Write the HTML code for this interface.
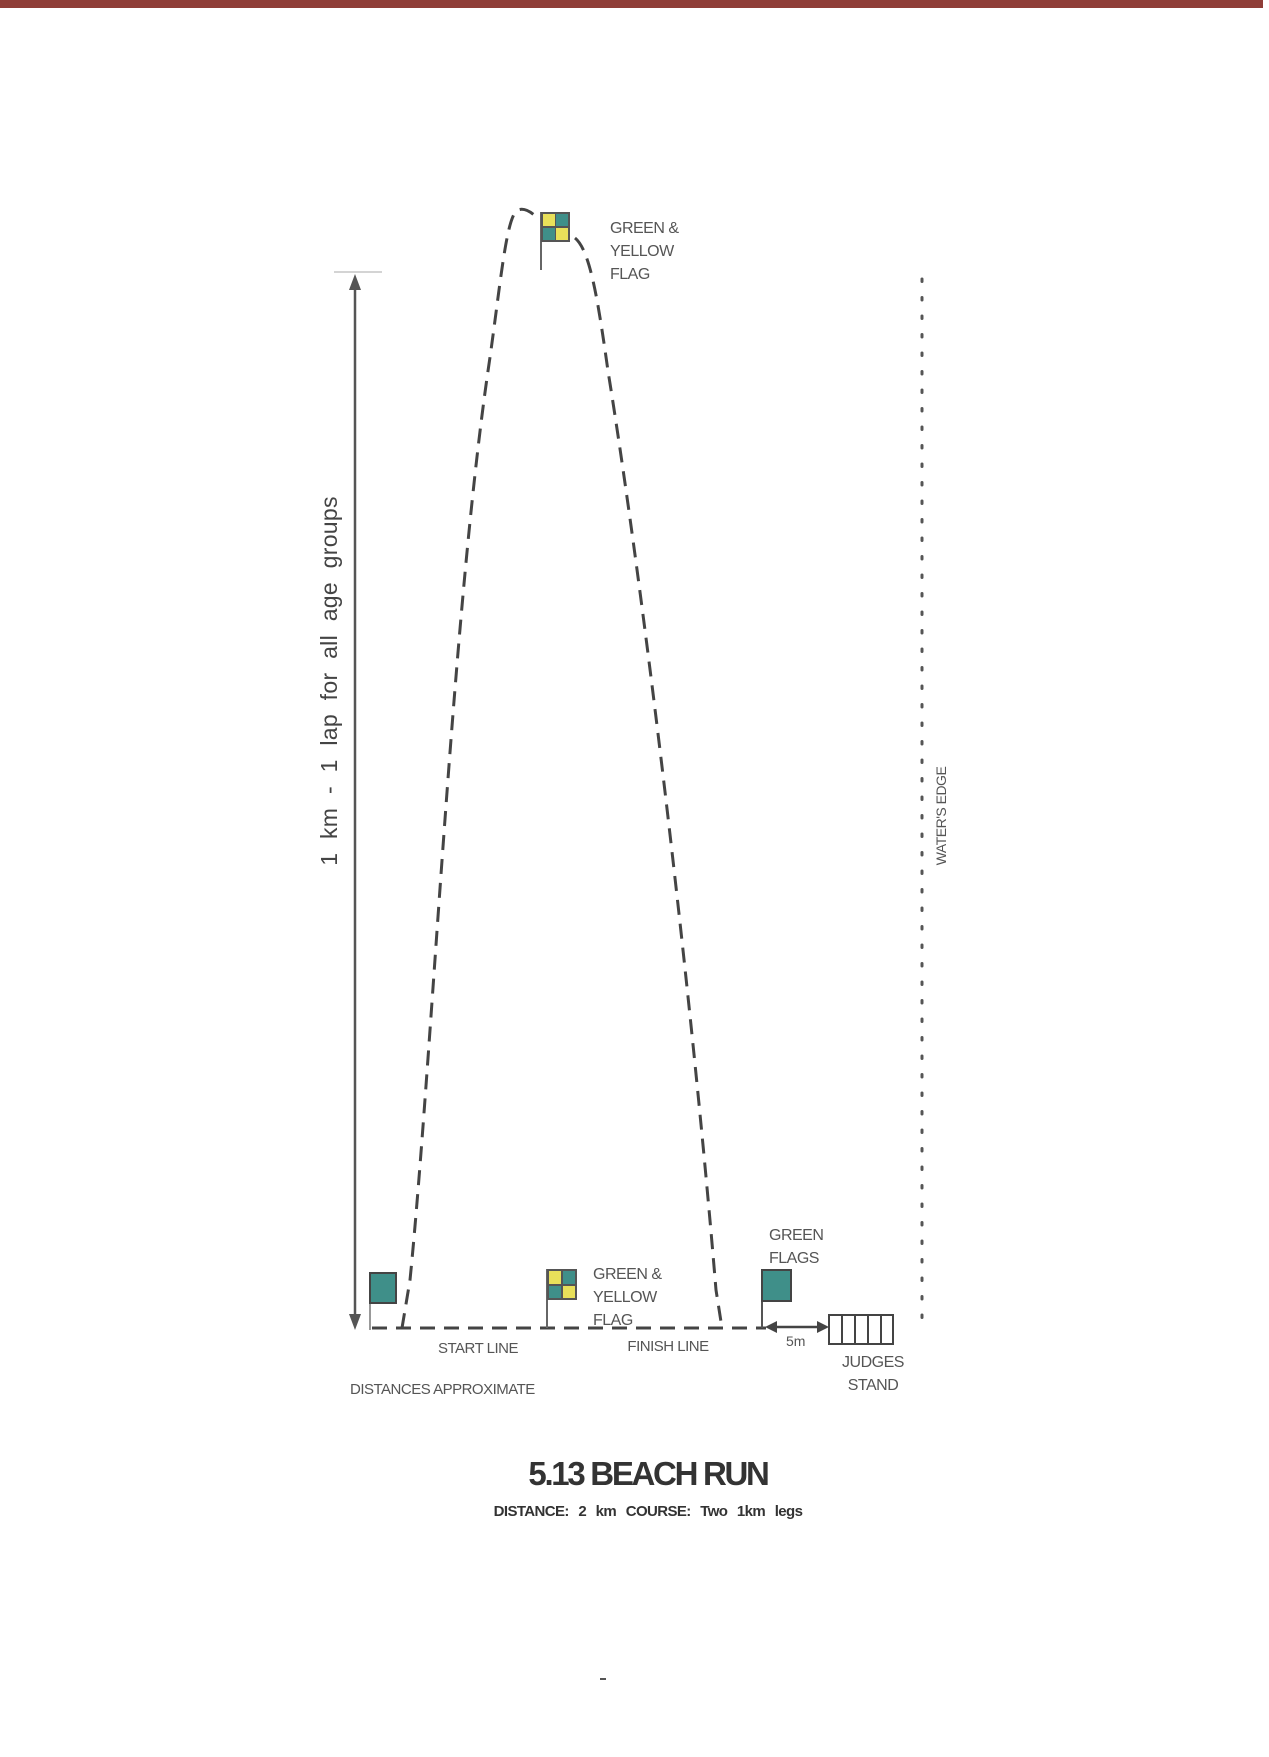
<!DOCTYPE html>
<html><head><meta charset="utf-8"><style>
html,body{margin:0;padding:0;background:#fff;}
svg{display:block;}
text{font-family:"Liberation Sans",sans-serif;fill:#555;}
</style></head><body>
<svg width="1269" height="1757" viewBox="0 0 1269 1757" xmlns="http://www.w3.org/2000/svg">
<rect x="0" y="0" width="1263" height="8" fill="#8f3e38"/>

<g stroke="#555" fill="#555">
<line x1="334" y1="272" x2="382" y2="272" stroke="#aaa" stroke-width="1"/>
<line x1="355" y1="282" x2="355" y2="1318" stroke-width="2.5"/>
<polygon points="355,274 349,290 361,290" stroke="none"/>
<polygon points="355,1330 349,1314 361,1314" stroke="none"/>
</g>
<text transform="translate(337,681) rotate(-90)" text-anchor="middle" font-size="23" style="fill:#444;word-spacing:7px;letter-spacing:0.3px">1 km - 1 lap for all age groups</text>

<g fill="none" stroke="#444" stroke-width="3" stroke-dasharray="15 9">
<path d="M372,1328 L722,1328 L766,1328"/>
<path d="M402,1328 L410,1280 C432,1060 452,620 488,371 C500,290 506,214 518,210 C526,207 533,214 540,220"/>
<path d="M575,238 C590,250 598,300 608,371 C645,600 692,1000 716,1290 L722,1328"/>
</g>

<g>
<line x1="370" y1="1273" x2="370" y2="1330" stroke="#777" stroke-width="1.5"/>
<rect x="370" y="1273" width="26" height="30" fill="#3f8f89" stroke="#444" stroke-width="2"/>
</g>

<g>
<line x1="541" y1="212" x2="541" y2="270" stroke="#666" stroke-width="2"/>
<rect x="541" y="212" width="29" height="30" fill="#555"/>
<rect x="543" y="214" width="12" height="12" fill="#e8e05a"/>
<rect x="556" y="214" width="12" height="12" fill="#3f8f89"/>
<rect x="543" y="228" width="12" height="12" fill="#3f8f89"/>
<rect x="556" y="228" width="12" height="12" fill="#e8e05a"/>
</g>
<text font-size="16" x="610" y="233" style="letter-spacing:-0.5px">GREEN &amp;</text>
<text font-size="16" x="610" y="256" style="letter-spacing:-0.5px">YELLOW</text>
<text font-size="16" x="610" y="279" style="letter-spacing:-0.5px">FLAG</text>

<g>
<line x1="547" y1="1269" x2="547" y2="1328" stroke="#666" stroke-width="2"/>
<rect x="547" y="1269" width="30" height="31" fill="#555"/>
<rect x="549" y="1271" width="12" height="13" fill="#e8e05a"/>
<rect x="563" y="1271" width="12" height="13" fill="#3f8f89"/>
<rect x="549" y="1286" width="12" height="12" fill="#3f8f89"/>
<rect x="563" y="1286" width="12" height="12" fill="#e8e05a"/>
</g>
<text font-size="16" x="593" y="1279" style="letter-spacing:-0.5px">GREEN &amp;</text>
<text font-size="16" x="593" y="1302" style="letter-spacing:-0.5px">YELLOW</text>
<text font-size="16" x="593" y="1325" style="letter-spacing:-0.5px">FLAG</text>

<text font-size="15" x="478" y="1353" text-anchor="middle" style="letter-spacing:-0.5px">START LINE</text>
<text font-size="15" x="668" y="1351" text-anchor="middle" style="letter-spacing:-0.5px">FINISH LINE</text>
<text font-size="15" x="350" y="1394" style="letter-spacing:-0.5px">DISTANCES APPROXIMATE</text>

<g>
<line x1="762" y1="1270" x2="762" y2="1328" stroke="#555" stroke-width="2"/>
<rect x="762" y="1270" width="29" height="31" fill="#3f8f89" stroke="#444" stroke-width="2"/>
</g>
<text font-size="16" x="769" y="1240" style="letter-spacing:-0.5px">GREEN</text>
<text font-size="16" x="769" y="1263" style="letter-spacing:-0.5px">FLAGS</text>

<g fill="#444" stroke="#444">
<line x1="772" y1="1327" x2="820" y2="1327" stroke-width="2.5"/>
<polygon points="765,1327 777,1321 777,1333" stroke="none"/>
<polygon points="829,1327 817,1321 817,1333" stroke="none"/>
</g>
<text font-size="14" x="786" y="1346">5m</text>

<g fill="none" stroke="#444" stroke-width="2">
<rect x="829" y="1315" width="64" height="29"/>
<line x1="842" y1="1315" x2="842" y2="1344"/>
<line x1="855" y1="1315" x2="855" y2="1344"/>
<line x1="868" y1="1315" x2="868" y2="1344"/>
<line x1="881" y1="1315" x2="881" y2="1344"/>
</g>
<text font-size="16" x="873" y="1367" text-anchor="middle" style="letter-spacing:-0.5px">JUDGES</text>
<text font-size="16" x="873" y="1390" text-anchor="middle" style="letter-spacing:-0.5px">STAND</text>

<line x1="922" y1="279" x2="922" y2="1320" stroke="#555" stroke-width="3" stroke-dasharray="2.5 16" stroke-linecap="round"/>
<text transform="translate(946,816) rotate(-90)" text-anchor="middle" font-size="14" style="letter-spacing:-0.5px">WATER'S EDGE</text>

<text x="648" y="1485" text-anchor="middle" font-size="33" font-weight="bold" style="fill:#333;letter-spacing:-2.3px">5.13 BEACH RUN</text>
<text x="648" y="1516" text-anchor="middle" font-size="15" font-weight="bold" style="fill:#333;word-spacing:6px;letter-spacing:-0.6px">DISTANCE: 2 km COURSE: Two 1km legs</text>
<rect x="600" y="1678" width="6" height="2" fill="#555"/>
</svg>
</body></html>
